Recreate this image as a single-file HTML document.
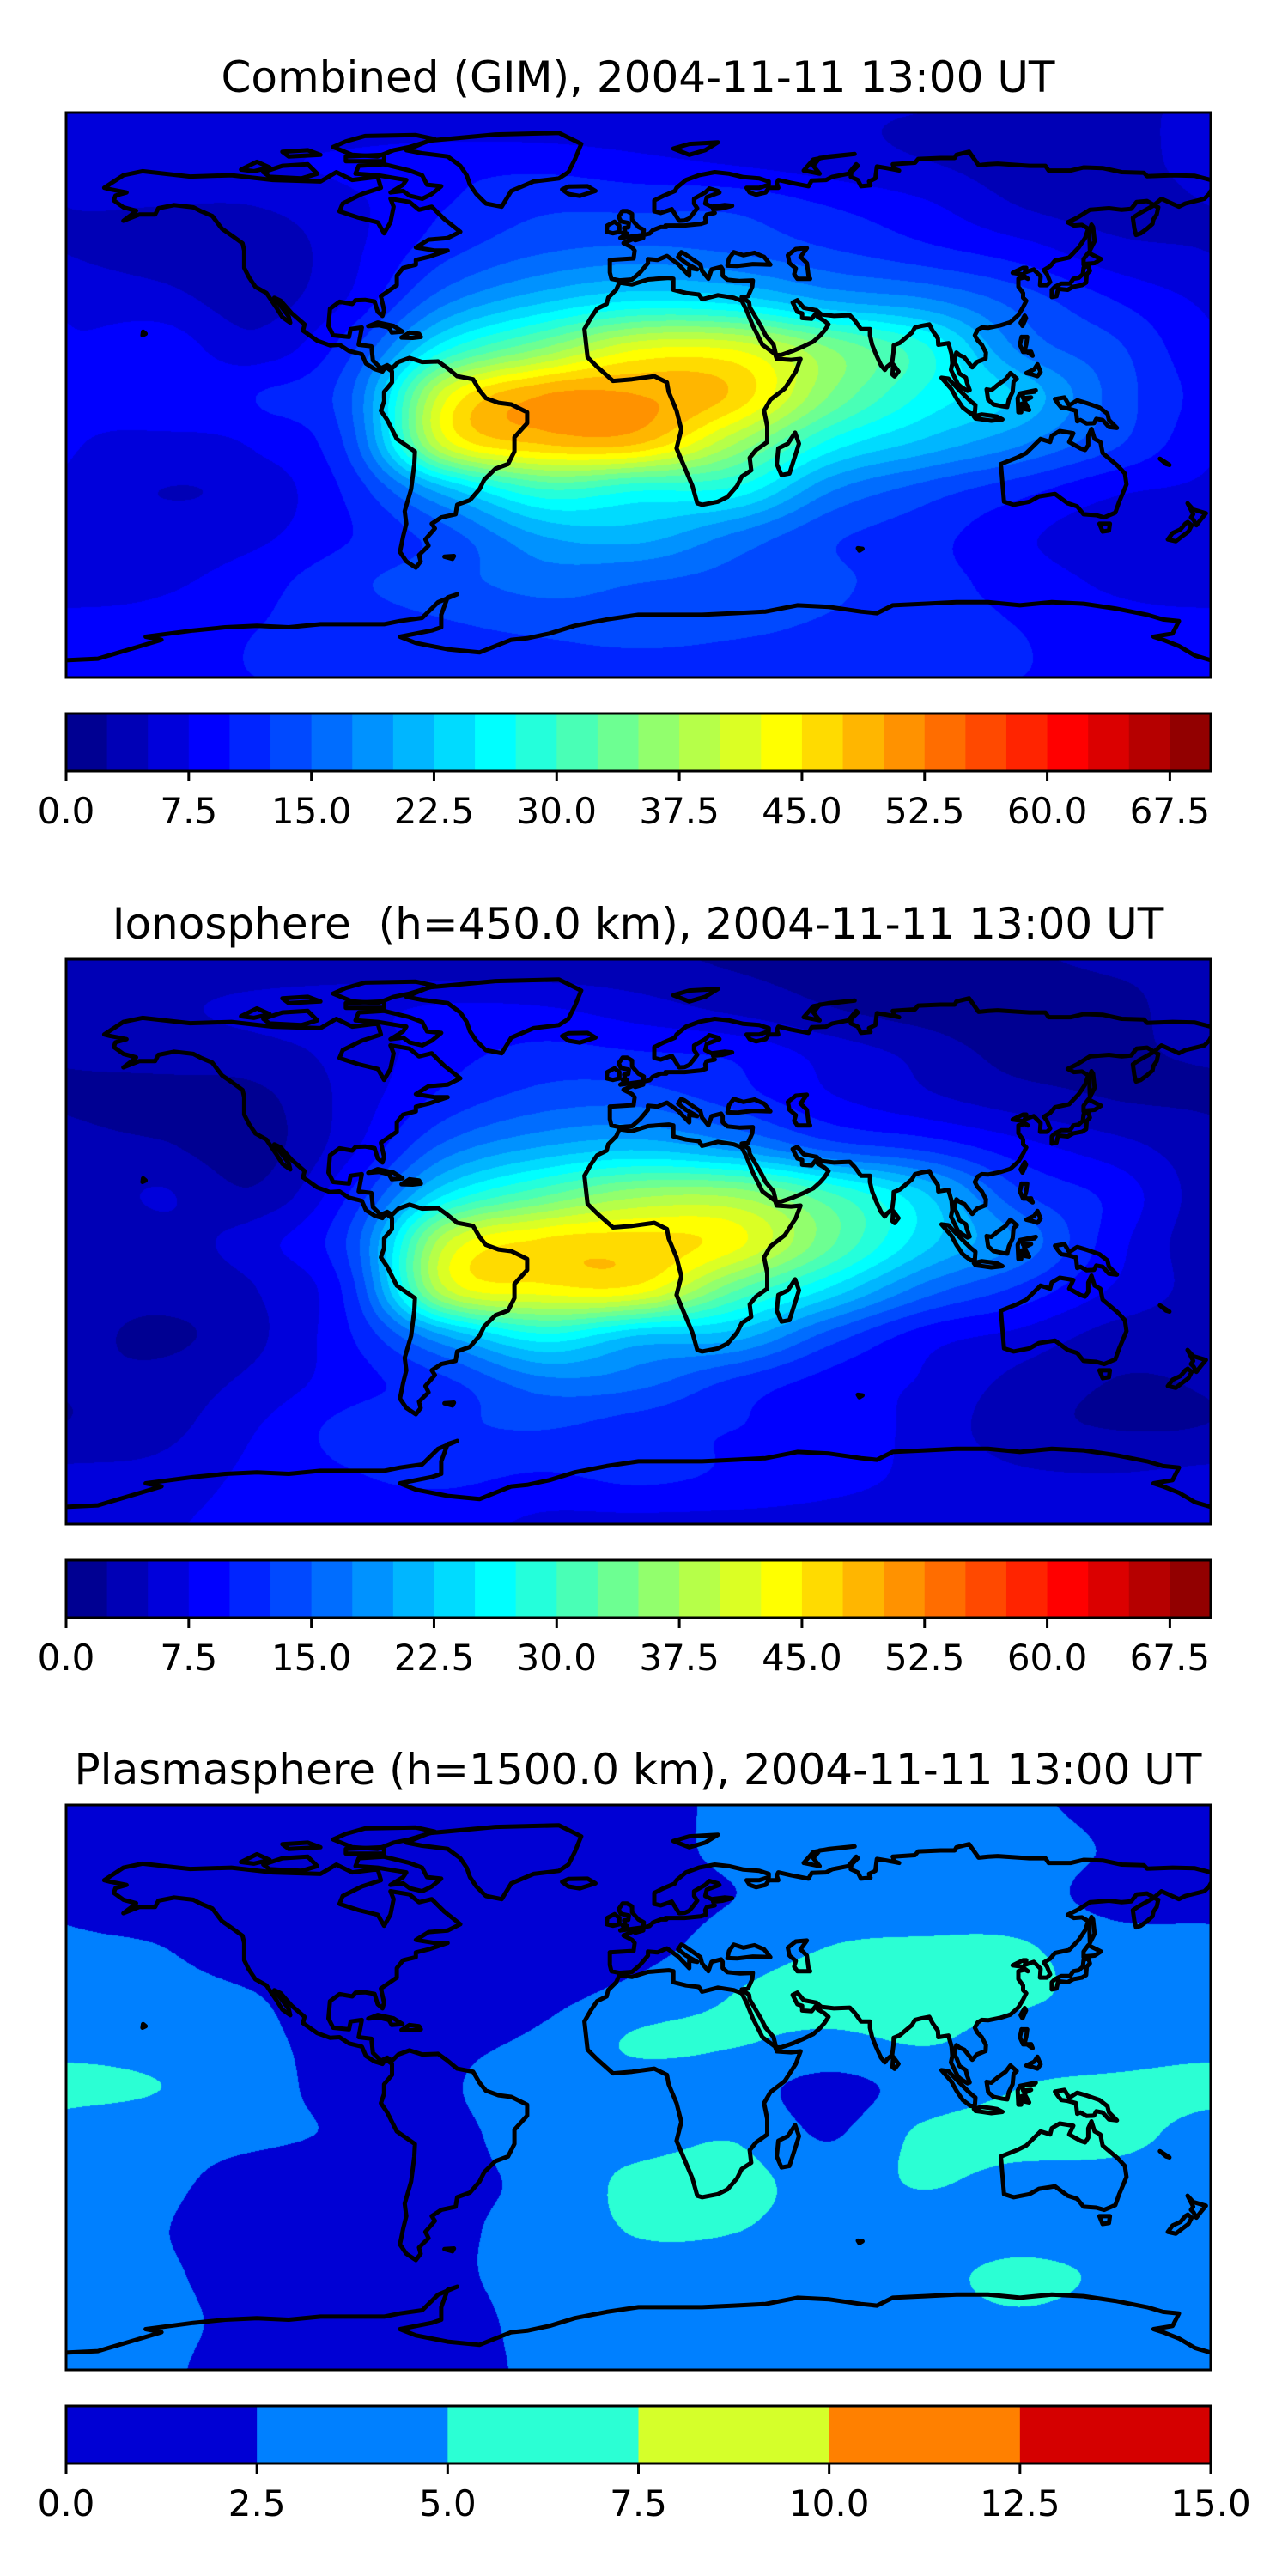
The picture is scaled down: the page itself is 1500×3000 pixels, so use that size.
<!DOCTYPE html>
<html><head><meta charset="utf-8"><title>GIM TEC maps</title>
<style>
html,body{margin:0;padding:0;background:#fff;}
#page{position:relative;width:1500px;height:3000px;overflow:hidden;background:#fff;}
canvas{position:absolute;}
#overlay{position:absolute;left:0;top:0;}
</style></head>
<body>
<div id="page">
<canvas id="map-combined" width="1333" height="658" style="left:77px;top:131px"></canvas>
<canvas id="map-iono" width="1333" height="658" style="left:77px;top:1117px"></canvas>
<canvas id="map-plasma" width="1333" height="658" style="left:77px;top:2102px"></canvas>
<svg id="overlay" width="1500" height="3000" xmlns="http://www.w3.org/2000/svg"></svg>
</div>
<script>
// grid longitudes / latitudes
const lonGrid=[-180,-150,-120,-90,-60,-30,0,30,60,90,120,150,180];
const latGrid=[90,75,60,45,30,15,0,-15,-30,-45,-60,-75,-90];
// Combined TEC (TECU)
const combinedTec=[
[5,5,5,5,5,5,5,5,5,5,5,5,5],
[6,6,7,8,9,9,8,7,6,5,4,4,6],
[5,5,5,7,10,12,12,12,10,8,5,4,5],
[5,4,3,7,12,15,16,15,13,11,9,6,5],
[7,6,4,8,17,22,25,24,20,18,14,10,7],
[8,9,6,12,27,35,42,42,35,28,17,13,8],
[9,9,10,15,42,50,50,47,35,27,22,14,9],
[8,7,8,14,42,48,48,38,27,22,18,13,8],
[7,5,6,11,22,30,28,27,18,14,11,8,7],
[6,6,7,10,14,20,21,17,13,11,8,6,6],
[6,7,9,12,14,16,15,14,13,11,9,7,6],
[9,9,10,11,12,13,14,13,12,11,10,9,9],
[10,10,10,10,10,10,10,10,10,10,10,10,10]];
// Ionosphere TEC
const ionoTec=[
[3,3,3,3,3,3,3,2.2,2,2,2.2,3,3],
[4,4.5,5.7,6.7,7.7,7.5,6,4.2,2.5,1.3,0.5,1.7,4],
[2.8,3.5,4,6,9,10.8,10.2,9.5,6.5,4.2,1.5,2.2,3],
[2.2,1.5,1.8,6,11,13.8,14.2,11.5,8,5.7,3.8,2.5,2.2],
[3.5,2.8,1.5,7,16,20.2,21.8,19,14,11.8,8.5,6,3.5],
[3.8,5.2,3,10.5,25.2,32,36.7,36.8,30.5,22.8,13,9.2,3.8],
[3.4,4,6.5,13.5,39.8,45.5,46,43.5,33.2,23.5,17,8.5,3.4],
[4,3.5,5,11.8,40.2,44,44,33.2,24.7,16.5,12,7.2,4],
[3.5,2,4.5,10,20.2,26.8,22.4,21.2,14,8.8,6.8,4,3.5],
[2.7,3.4,5.8,9,12,16.5,15.8,11.9,9,7.2,4.2,2.4,2.7],
[2.7,4.2,7.5,11,12,12.5,11,10,9,6.7,3.4,2.5,2.7],
[5.8,6,8.2,9.8,10.5,9.7,10.5,9.5,8.2,7,5.5,5.2,5.8],
[7,7.2,8.5,8.8,8.5,7,6.8,6.8,6.8,6.8,6.8,6.8,7]];
// Plasmasphere TEC
const plasmaTec=[
[2,2,2,2,2,2,2,2.8,3,3,2.8,2,2],
[2,1.5,1.3,1.3,1.3,1.5,2,2.8,3.5,3.7,3.5,2.3,2],
[2.2,1.5,1,1,1,1.2,1.8,2.5,3.5,3.8,3.5,1.8,2],
[2.8,2.5,1.2,1,1,1.2,1.8,3.5,5,5.3,5.2,3.5,2.8],
[3.5,3.2,2.5,1,1,1.8,3.2,5,6,6.2,5.5,4,3.5],
[4.2,3.8,3,1.5,1.8,3,5.3,5.2,4.5,5.2,4,3.8,4.2],
[5.6,5,3.5,1.5,2.2,4.5,4,3.5,1.8,3.5,5,5.5,5.6],
[4,3.5,3,2.2,1.8,4,4,4.8,2.3,5.5,6,5.8,5.2],
[3.5,3,1.5,1,1.8,3.2,5.6,5.8,4,5.2,4.2,4,3.8],
[3.3,2.6,1.2,1,2,3.5,5.2,5.1,4,3.8,3.8,3.6,3.3],
[3.3,2.8,1.5,1,2,3.5,4,4,4,4.3,5.6,4.5,3.5],
[3.2,3,1.8,1.2,1.5,3.3,3.5,3.5,3.8,4,4.5,3.8,3.2],
[3,2.8,1.5,1.2,1.5,3,3.2,3.2,3.2,3.2,3.2,3.2,3]];
const ticksWide=["0.0","7.5","15.0","22.5","30.0","37.5","45.0","52.5","60.0","67.5"];
const ticksNarrow=["0.0","2.5","5.0","7.5","10.0","12.5","15.0"];
const titles=["Combined (GIM), 2004-11-11 13:00 UT","Ionosphere  (h=450.0 km), 2004-11-11 13:00 UT","Plasmasphere (h=1500.0 km), 2004-11-11 13:00 UT"];

const COAST=[
[[-168,66],[-162,70],[-156,71.3],[-141,69.6],[-128,70],[-115,68.5],[-100,68],[-95,71],[-90,68.5],[-82,69.5],[-81,66],[-87,64],[-93,61],[-94,58.5],[-88,56.5],[-82,55],[-80,51.5],[-78,55],[-77,60],[-78,62.5],[-72,61.5],[-69,59],[-65,60],[-61,56],[-56,52],[-60,50],[-66,49.5],[-70,47],[-64,46],[-60,46],[-66,44],[-70,43],[-70,41.5],[-74,40.5],[-76,38],[-76,35],[-81,31.5],[-80,27],[-80.5,25.2],[-82,26.5],[-83,29.8],[-86,30.3],[-89,30.2],[-90,29],[-94,29.7],[-97,27.5],[-97.5,22],[-96,19],[-91,18.5],[-90.5,21],[-87,21.5],[-88,16],[-84,15.5],[-83.5,11],[-81,8.5],[-79,9.5],[-77.5,8.5],[-75.5,10.5],[-72,11.8],[-68,10.5],[-63,10.7],[-60,8.5],[-57,6],[-52,5],[-50,1.5],[-48,-1],[-44,-2.5],[-40,-3],[-35,-5.5],[-35,-9],[-39,-13.5],[-39,-18],[-41,-22],[-45,-23.5],[-48.5,-27],[-50,-30],[-53,-33.5],[-57,-35],[-57.5,-38],[-62,-39],[-65,-41],[-64,-42.5],[-67,-46],[-66,-48],[-69,-51],[-68.5,-53],[-70,-55],[-73,-53],[-75,-50],[-74,-45],[-73,-41],[-73.5,-37],[-71.5,-30],[-70.5,-22],[-70.3,-18],[-76,-14],[-79,-8],[-81,-5],[-80,-2],[-80,1],[-77.5,4],[-77.5,7.5],[-79.5,9],[-80.5,7.5],[-83,8.3],[-85.7,10],[-87,13],[-91,14],[-94,16],[-97,15.8],[-101,17.3],[-105.5,20.5],[-105,22.5],[-109,26],[-112.5,30],[-114.5,31],[-113,29],[-110,25],[-109.5,23],[-112,24.8],[-114,28],[-116,31],[-117,32.5],[-120.5,34.5],[-122.5,37.5],[-124,40.5],[-124,46],[-124.5,48.3],[-127.5,50.5],[-131,53],[-134,57],[-137.5,58.5],[-140,59.8],[-146,60.5],[-151,59.5],[-152,57.5],[-157,57.5],[-162,55.5],[-159,57.8],[-158,58.7],[-162,59.8],[-165,62],[-164.5,63.5],[-161,64.5],[-166,65.5],[-168,66]],
[[-73,78],[-66,81],[-45,83],[-25,83.5],[-18,80],[-20,75],[-22,71],[-25,69],[-33,68],[-40,65],[-43,60],[-48,61],[-51,64],[-53,67],[-54,70],[-56,73],[-60,76],[-68,77],[-73,78]],
[[-17,21],[-16,12],[-13,9],[-8,4.5],[-2,5],[5,6],[9,4],[9.5,1],[12,-5],[13.5,-11],[12,-17],[14.5,-23],[17,-29],[18.5,-34.5],[20,-35],[25,-34],[28,-32.5],[31,-29],[32.5,-26],[35.5,-24],[35,-20],[37,-17.5],[40.5,-15],[40.5,-10],[39.5,-5],[41.5,-1.5],[46,2],[49.5,7.5],[51,11.5],[48,11.2],[43.5,11.5],[43,13],[39,16],[37.5,19],[36,22],[34,27],[32.5,30],[30,31],[25,31.8],[20,30.5],[19,32],[15,32.5],[11,33.5],[11,37],[9.5,37.3],[3,36.8],[-2,35.2],[-6,35.8],[-7,33.5],[-9.5,31],[-10,29],[-13,27.5],[-15,24.5],[-17,21]],
[[-9,43],[-9,39],[-8.5,37],[-6,36.5],[-2,36.8],[0.5,39],[3,42],[3,43.3],[6,43],[9,44.3],[12.5,41.7],[16,38],[16,40.5],[18.5,40],[15,42],[12.5,44],[13.5,45.5],[14.5,45],[19.5,41.5],[20,39.5],[22,37],[23,40],[26,40.8],[26.5,40],[26.5,38],[28,36.7],[32,36.3],[36,36.5],[35.8,34.5],[34.5,31.5],[32.5,31.2],[34.8,29.5],[35,28],[38.5,22],[40,19],[42.5,16],[43.3,12.7],[45,12.8],[48.5,14],[52,15.5],[55,17],[57,18.8],[58.5,20.5],[59.8,22.5],[58.5,23.6],[56.4,24.9],[56,26.2],[54.5,24.3],[51.5,24.5],[51.5,26],[50,26.5],[48.5,29.5],[50,30.2],[52,27.8],[56,27],[57.5,25.7],[61.5,25.2],[66.5,25.4],[68,23.8],[70,21],[72.8,21],[72.8,19],[73.5,16],[74.7,13],[76.3,9.5],[77.5,8],[78.2,9],[79.8,10.3],[80.2,13.5],[80.3,15.8],[82.2,16.6],[86,19.8],[87,21.5],[89,22],[91.5,22.5],[92.5,20.5],[94.2,18],[94.3,16],[97.5,16.5],[98.5,13],[98.7,10],[98.3,8],[100.5,3.5],[101.5,2.6],[103.5,1.3],[104.2,1.6],[103.3,4],[103,5.5],[101,6.8],[100,9.5],[99.3,10.5],[100,13.5],[101,12.7],[102.5,12],[105,8.8],[106.5,10.5],[109.2,11.6],[109.3,13.5],[108,16],[106.6,17.5],[105.8,19],[106.7,20.7],[108,21.5],[110,21.4],[112,21.8],[114,22.2],[117,23.2],[119.5,25.5],[121,28],[122,30],[121,31],[121,32.5],[119.5,34.5],[119.5,37],[121.5,37.5],[122.5,37],[120.5,38.5],[117.7,38.9],[118.5,39.3],[121,40.5],[122,40.5],[121.5,39],[124.3,40],[126.5,37.8],[126.3,35],[128.5,35],[129.5,36],[128.5,38.5],[127.5,39.8],[129.5,41],[131,42.8],[135.5,43.8],[138.5,47],[140.5,50],[141.5,53],[139.5,54.2],[137,54],[135,55],[138,56.5],[142,59],[148,59.5],[152,59],[155,59.3],[156.7,61.5],[160,61.8],[163,60],[163.5,59.8],[163,57.5],[162,56],[161.7,54.5],[160,53],[158,51.5],[156.5,51],[156,53],[155.5,56.5],[157.5,57.8],[161.9,60.3],[164.5,62.5],[170,60],[172,61],[178,62.5],[179.5,64],[180,65]],
[[180,68.5],[175,69.8],[168,70],[160,69.7],[159,70.8],[152,71],[146,72.3],[140,72.5],[136,71.5],[129,71.5],[128,73],[123,73],[113,73.7],[110,73.5],[107,73.2],[104,77.5],[100,76.5],[99.5,75.5],[95,75.5],[88,75.2],[87,74],[80,73.5],[80.5,72],[82,71.5],[78,72.3],[75,72.8],[74.5,69],[72.5,68],[73,66.8],[70,66.5],[69,68.5],[66.8,69.5],[67,71],[69,73],[68.5,73.5],[66,70.5],[61,69.5],[59,68.5],[54.5,68.3],[53.5,66.5],[48,67.6],[44,68.5],[43.5,67.5],[44,66],[41,66],[40,64.5],[37,63.8],[35,64.5],[34,66],[38,66],[41,67],[41,68],[38,69],[33,69.4],[28.5,70.5],[24,71],[19,70],[15,68.5],[12,66],[11.5,65],[8,63.5],[5,62],[5,58.5],[7,58],[10.5,59.2],[12.5,56],[12.8,55.5],[14.5,55.6],[16,56.3],[17,57.5],[18.5,59.5],[17.5,61],[17.5,62.5],[21,64.5],[22.3,65.8],[25,65],[25.5,64.5],[21.5,63],[21,61],[23,60],[27,60.5],[29.5,60.3],[26.5,59.5],[23.5,59.2],[24,58],[21.5,57.5],[21,56.5],[21.2,55],[19.5,54.5],[14.5,54],[11,54],[8.5,54],[8.8,53.5],[7,53.5],[4.5,52.5],[3.5,51.4],[1.6,51],[1.5,50],[-1,49.3],[-1.6,49.7],[-4.7,48.4],[-2,47],[-1.2,46],[-1.5,43.5],[-9,43]],
[[-5.7,50],[1.5,51],[1.7,52.6],[0,53.5],[-2,55.8],[-2,57.7],[-3.5,58.6],[-5,58.6],[-6.2,56.8],[-5.5,55.3],[-3,54.8],[-3.2,53.4],[-4.5,53.2],[-4.2,52.2],[-5,51.6],[-3.5,51.4],[-5.7,50]],
[[-6,52],[-6,54],[-7.5,55.2],[-9.8,54],[-10,52],[-8,51.5],[-6,52]],
[[49.3,-12],[50.5,-15.5],[47.5,-25],[45,-25.5],[43.5,-22],[44,-17],[47,-15.5],[49.3,-12]],
[[114,-22],[115,-34],[118,-35],[123,-34],[126,-32.3],[131,-31.5],[135,-34.5],[138,-35.5],[140,-38],[144,-38.3],[146.5,-39],[150,-37.5],[151.2,-34],[153.5,-28.5],[153,-25],[150.7,-22.5],[146,-18.5],[145.3,-15],[143.5,-14],[142.5,-10.8],[141.5,-13],[141.5,-16],[140.5,-17.5],[139,-17],[135.5,-15],[136.8,-12.2],[132.5,-11.5],[130,-13],[129.5,-15],[126.5,-14],[123.5,-17],[122,-18.5],[119,-20],[114,-22]],
[[145,-41],[148.3,-41],[148,-43.2],[146,-43.5],[145,-41]],
[[172.7,-34.5],[174.5,-36.5],[178.5,-37.7],[177,-39.5],[175.5,-41.5],[174.6,-39.8],[173.8,-39],[174.5,-38],[172.7,-34.5]],
[[172.8,-40.5],[174,-41.5],[173,-43.5],[171,-45],[169,-46.6],[166.5,-46],[168,-44],[170.5,-42.8],[172,-41],[172.8,-40.5]],
[[130,31.2],[131.5,31.5],[132,33.8],[135,33.5],[136.8,34.5],[139.5,35],[140.8,35.8],[141,38.5],[142,39.5],[141.5,41.3],[140,40.5],[139.8,38.5],[138.5,37.3],[136.8,37],[135.8,35.5],[133,35.5],[131,34.5],[130,33.5],[130,31.2]],
[[140,41.5],[141,41.8],[143.5,42],[145.5,43.3],[141.5,45.3],[140,43.3],[140,41.5]],
[[142,46],[143.5,49],[143,53.5],[142.5,54.3],[141.8,52],[142,46]],
[[95.3,5.5],[97.5,5.2],[100.5,2],[104.5,-2],[106,-3.2],[105.8,-5.8],[104.5,-5.9],[102,-4],[100,-1],[98.5,1.8],[95.3,5.5]],
[[105.5,-6.8],[108,-6.2],[111,-6.6],[112.8,-6.9],[114.5,-7.8],[111,-8.2],[106,-7.5],[105.5,-6.8]],
[[109.5,1.8],[111,1.5],[113,3.2],[115.5,5],[117,7],[119,5.2],[118,4.3],[117.7,1],[116.5,-1.5],[116,-3.8],[114.5,-3.6],[111.7,-3],[110,-1.5],[109.5,1.8]],
[[119.5,-5.5],[120.4,-5.5],[120.5,-2.8],[121.5,-4.5],[122.9,-4.8],[121.3,-1.8],[123.5,-0.8],[121,-1],[120.8,0.6],[124.5,1],[125,1.5],[120,0.5],[119.3,-1],[119.5,-5.5]],
[[131,-1.3],[134,-0.8],[135.5,-3.3],[138,-1.7],[141,-2.6],[145,-4],[147.5,-6],[148,-8],[150.5,-10.5],[148,-10.2],[146,-8],[144,-7.6],[143.3,-9],[141,-9.1],[139,-8],[138,-8.4],[137.6,-5],[135,-4.3],[133,-4],[132,-2.8],[131,-1.3]],
[[120.5,18.5],[122.3,18.5],[122,16.2],[121.5,14.2],[124,12.5],[123.5,13.8],[121,13.7],[120.5,14.8],[120,16],[120.5,18.5]],
[[122,7],[124.5,8.2],[125.5,9.8],[126.5,7.3],[125.5,6],[124,6.5],[122,7]],
[[120.2,23],[121.5,25.3],[121.9,24.5],[120.8,22],[120.2,23]],
[[79.9,6.5],[80.1,9.8],[81.8,7.5],[80.6,5.9],[79.9,6.5]],
[[-85,21.9],[-82,23.1],[-77,22],[-74.2,20.2],[-77.6,19.9],[-78.5,21.5],[-81.5,22.2],[-85,21.9]],
[[-74.5,18.3],[-72,19.9],[-69,19.5],[-68.4,18.5],[-71,18.2],[-74.5,18.3]],
[[-22,64],[-24,65.5],[-22,66.4],[-16,66.5],[-13.5,65],[-18.5,63.4],[-22,64]],
[[11,78.5],[16,80],[25,80.5],[21,78],[16,76.5],[11,78.5]],
[[52,71.5],[57,70.5],[55,73],[57,75.5],[68,76.8],[60,76],[55,75],[52,71.5]],
[[-80,73.5],[-72,71.5],[-68,70],[-66.5,67],[-62,66.5],[-65,64],[-68,62.5],[-72,63.5],[-74,65],[-78,64.5],[-74,67],[-73,68.5],[-76,69],[-82,70],[-89,70.5],[-88,73],[-80,73.5]],
[[-90,76.5],[-82,76],[-77,78],[-72,79],[-64,81.5],[-70,82.8],[-86,82.5],[-92,80.8],[-96,79],[-90,76.5]],
[[-118,71],[-112,73],[-104,73.5],[-101,70.5],[-106,69],[-116,69.5],[-118,71]],
[[-125,71.8],[-120,74.3],[-116,72.5],[-121,71.3],[-125,71.8]],
[[-92,74.5],[-80,74.5],[-80,76.5],[-92,76],[-92,74.5]],
[[-110,76],[-100,76.5],[-104,78],[-112,77.5],[-110,76]],
[[28,41.2],[28.5,43.5],[30,45.5],[33,44.5],[36.5,45.3],[39.5,44],[41.5,41.5],[36,41.7],[31,41.1],[28,41.2]],
[[47,44.5],[49.5,46.5],[53,46.8],[51,44],[53,42],[53.5,38],[54,37],[50,37],[49,38.5],[49.5,40.3],[47.5,42],[47,44.5]],
[[-61,-51.5],[-58,-51.3],[-58.5,-52.2],[-61,-51.5]],
[[69,-48.8],[70.5,-49],[69.5,-49.6],[69,-48.8]],
[[-156,19],[-155,19.5],[-155.8,20.2],[-156,19]],
[[164,-20.3],[167,-22.3],[166,-22],[164,-20.3]],
[[-180,-84.5],[-170,-84],[-160,-81],[-150,-78],[-155,-77],[-140,-75],[-130,-74],[-120,-73.5],[-110,-74],[-100,-73],[-90,-73],[-80,-73],[-75,-72],[-68,-71],[-63,-66],[-57,-63.5],[-60,-64.5],[-62,-70],[-62,-74],[-65,-75],[-75,-77],[-70,-79],[-60,-81],[-50,-82],[-40,-78],[-35,-77.5],[-28,-76],[-20,-73.5],[-10,-71.5],[0,-70],[10,-70],[20,-70],[30,-69.5],[40,-69],[50,-67],[60,-67.5],[70,-69],[75,-69.5],[80,-67],[90,-66.5],[100,-66],[110,-66],[120,-67],[130,-66],[140,-66.5],[150,-68],[160,-70],[165,-71.5],[170,-72],[168,-76],[162,-77],[165,-78],[170,-80],[175,-83],[180,-84.5]]
];

const MAPX=77,MAPW=1333,MAPH=658,CBH=67,CBGAP=42;
const panelTops=[131,1117,2102];
const panelNames=["combined","ionosphere","plasmasphere"];

function jet(x){
  const c=v=>Math.round(255*Math.max(0,Math.min(1,v)));
  return [c(1.5-Math.abs(4*x-3)),c(1.5-Math.abs(4*x-2)),c(1.5-Math.abs(4*x-1))];
}
function cr(p0,p1,p2,p3,t){return p1+0.5*t*(p2-p0+t*(2*p0-5*p1+4*p2-p3+t*(3*(p1-p2)+p3-p0)));}
function sample(g,fx,fy){
  const nc=lonGrid.length-1,nr=latGrid.length-1;
  const ix=Math.floor(fx),iy=Math.floor(fy),tx=fx-ix,ty=fy-iy;
  const col=c=>((c%nc)+nc)%nc;
  const row=r=>Math.max(0,Math.min(nr,r));
  const vals=[];
  for(let j=-1;j<=2;j++){
    const R=g[row(iy+j)];
    vals.push(cr(R[col(ix-1)],R[col(ix)],R[col(ix+1)],R[col(ix+2)],tx));
  }
  return cr(vals[0],vals[1],vals[2],vals[3],ty);
}
function drawField(id,grid,nLev,vmax){
  const cv=document.getElementById(id),ctx=cv.getContext('2d');
  const img=ctx.createImageData(MAPW,MAPH),d=img.data;
  const pal=[];for(let i=0;i<nLev;i++)pal.push(jet((i+0.5)/nLev));
  const step=vmax/nLev, sx=(lonGrid.length-1)/MAPW, sy=(latGrid.length-1)/MAPH;
  for(let y=0;y<MAPH;y++){
    const fy=(y+0.5)*sy;
    for(let x=0;x<MAPW;x++){
      const v=sample(grid,(x+0.5)*sx,fy);
      let k=Math.floor(v/step);if(k<0)k=0;if(k>nLev-1)k=nLev-1;
      const p=pal[k],o=(y*MAPW+x)*4;
      d[o]=p[0];d[o+1]=p[1];d[o+2]=p[2];d[o+3]=255;
    }
  }
  ctx.putImageData(img,0,0);
}
drawField('map-combined',combinedTec,28,70);
drawField('map-iono',ionoTec,28,70);
drawField('map-plasma',plasmaTec,6,15);

const NS='http://www.w3.org/2000/svg';
const svg=document.getElementById('overlay');
function mk(tag,attrs){const e=document.createElementNS(NS,tag);for(const k in attrs)e.setAttribute(k,attrs[k]);return e;}
const px=lon=>MAPX+(lon+180)/360*MAPW;
const py=(lat,top)=>top+(90-lat)/180*MAPH;
const FONT='"DejaVu Sans","Liberation Sans",sans-serif';

panelTops.forEach((top,pi)=>{
  const g=mk('g',{});
  
  
  svg.appendChild(g);
  const t=mk('text',{x:743,y:top-24,'text-anchor':'middle','font-family':FONT,'font-size':50,fill:'#000',style:'white-space:pre'});
  t.textContent=titles[pi];
  
  
  g.appendChild(t);
  const clip=mk('clipPath',{id:'clip'+pi});clip.appendChild(mk('rect',{x:MAPX,y:top,width:MAPW,height:MAPH}));
  svg.appendChild(clip);
  const cg=mk('g',{fill:'none',stroke:'#000','stroke-width':5,'stroke-linejoin':'round','stroke-linecap':'round','clip-path':'url(#clip'+pi+')'});
  
  
  COAST.forEach(poly=>{
    const pts=poly.map(p=>px(p[0]).toFixed(1)+','+py(p[1],top).toFixed(1)).join(' ');
    const pl=mk('polyline',{points:pts});
    
    
    cg.appendChild(pl);
  });
  g.appendChild(cg);
  const fr=mk('rect',{x:MAPX,y:top,width:MAPW,height:MAPH,fill:'none',stroke:'#000','stroke-width':3});
  
  
  g.appendChild(fr);
  const nLev=pi<2?28:6, vmax=pi<2?70:15;
  const ticks=pi<2?ticksWide:ticksNarrow;
  const cbTop=top+MAPH+CBGAP;
  const cb=mk('g',{});
  
  
  g.appendChild(cb);
  const cx=v=>MAPX+v/vmax*MAPW;
  for(let i=0;i<nLev;i++){
    const c=jet((i+0.5)/nLev);
    const r=mk('rect',{x:cx(i*vmax/nLev),y:cbTop,width:MAPW/nLev+0.6,height:CBH,fill:'rgb('+c.join(',')+')'});
    
    
    cb.appendChild(r);
  }
  cb.appendChild(mk('rect',{x:MAPX,y:cbTop,width:MAPW,height:CBH,fill:'none',stroke:'#000','stroke-width':3}));
  ticks.forEach(lbl=>{
    const x=cx(parseFloat(lbl));
    const tk=mk('line',{x1:x,x2:x,y1:cbTop+CBH,y2:cbTop+CBH+12,stroke:'#000','stroke-width':3});
    
    
    cb.appendChild(tk);
    const tl=mk('text',{x:x,y:cbTop+CBH+61,'text-anchor':'middle','font-family':FONT,'font-size':42,fill:'#000'});
    tl.textContent=lbl;
    
    
    cb.appendChild(tl);
  });
});
</script>
</body></html>
